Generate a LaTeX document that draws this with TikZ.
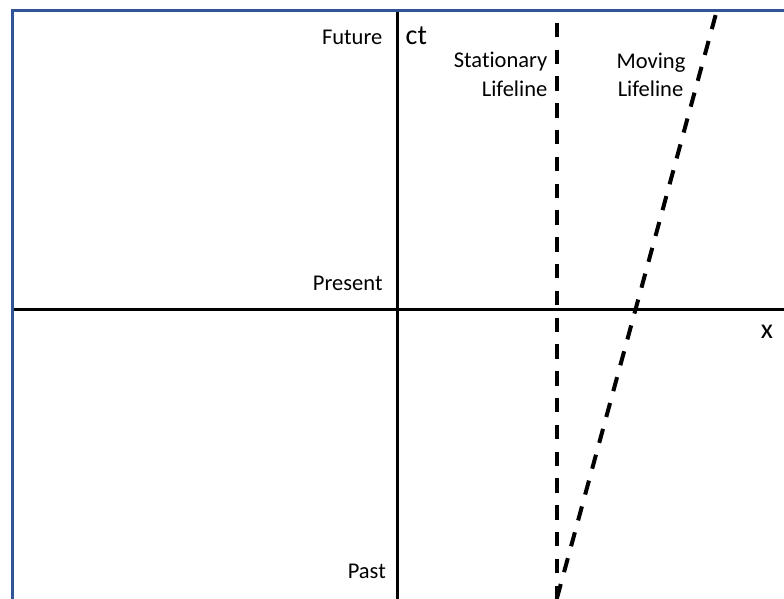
\documentclass[tikz,border=0pt]{standalone}
\usepackage{fontspec}
\setmainfont[Ligatures=NoCommon]{Carlito}
\begin{document}
\begin{tikzpicture}[x=1pt,y=-1pt,
  frame/.style={draw=framecol,line width=2.5pt},
  axis/.style={draw=black,line width=3pt},
  lifeline/.style={draw=black,line width=4pt,dash pattern=on 14.5pt off 12.3pt},
  lbl/.style={inner sep=0pt,font=\fontsize{22.5}{27}\selectfont},
  big/.style={inner sep=0pt,font=\fontsize{28}{32}\selectfont}]
\definecolor{framecol}{HTML}{2F5597}
\useasboundingbox (0,0) rectangle (784,598);
\begin{scope}
\clip (0,0) rectangle (784,598);
% frame
\coordinate (fbl) at (12.5,600);
\coordinate (ftl) at (12.5,10.5);
\coordinate (ftr) at (790,10.5);
\draw[frame] (fbl) -- (ftl) -- (ftr);
% axes
\coordinate (xl) at (13.5,309.3);
\coordinate (xr) at (790,309.3);
\coordinate (yt) at (397.5,11.5);
\coordinate (yb) at (397.5,600);
\draw[axis] (xl) -- (xr);
\draw[axis] (yt) -- (yb);
% lifelines
\coordinate (st) at (557.3,22.7);
\coordinate (sb) at (557.3,600);
\draw[lifeline] (st) -- (sb);
\coordinate (mb) at (557,598);
\coordinate (mt) at (717,10);
\draw[lifeline] (mb) -- (mt);
\end{scope}
% labels
\node[lbl,anchor=base east] (future) at (382.5,44) {Future};
\node[big,anchor=base west] (ct) at (405.5,44) {ct};
\node[lbl,anchor=base east] (stat1) at (547.5,67.5) {Stationary};
\node[lbl,anchor=base east] (stat2) at (547.5,96.5) {Lifeline};
\node[lbl,anchor=base] (mov1) at (651,68) {Moving};
\node[lbl,anchor=base] (mov2) at (650.5,96.5) {Lifeline};
\node[lbl,anchor=base east] (present) at (382.7,290) {Present};
\node[big,anchor=base] (xlab) at (767,338) {x};
\node[lbl,anchor=base east] (past) at (386,578) {Past};
\end{tikzpicture}
\end{document}
